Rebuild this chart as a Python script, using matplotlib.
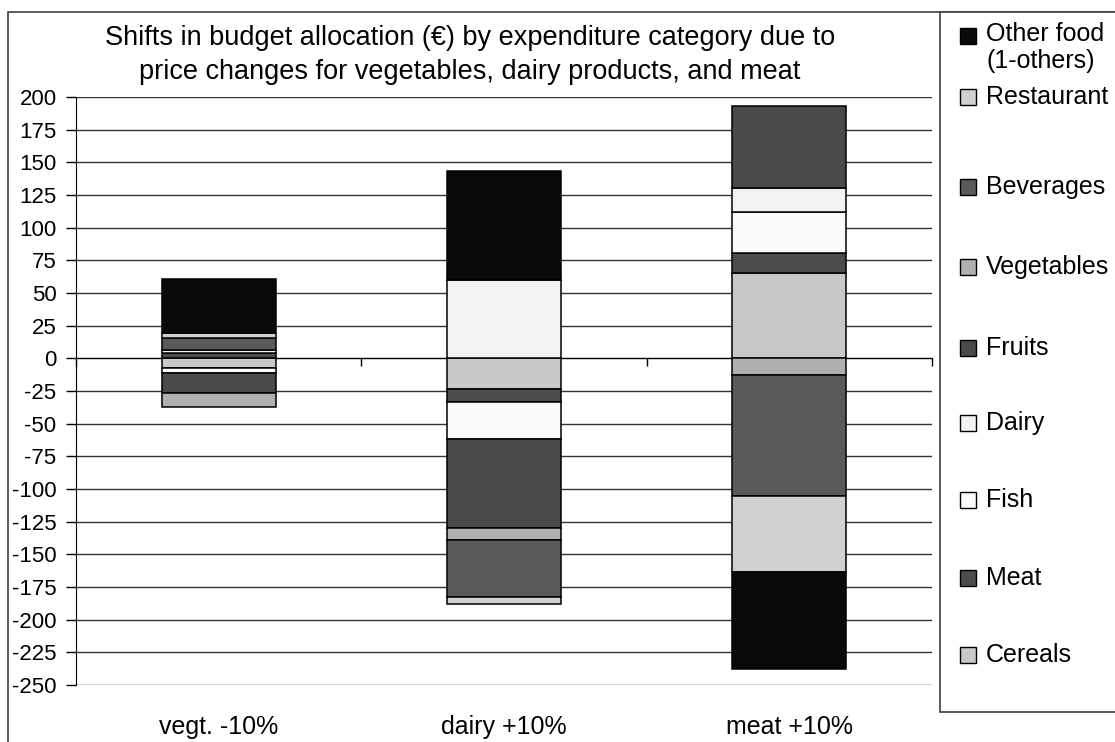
import numpy as np
import matplotlib
matplotlib.use('Agg')
import matplotlib.pyplot as plt
from matplotlib.patches import Rectangle

plt.rcParams['font.family'] = ['Liberation Sans', 'DejaVu Sans']
plt.rcParams['axes.unicode_minus'] = False

# data
categories = ['vegt. -10%', 'dairy +10%', 'meat +10%']
series = ['Cereals', 'Meat', 'Fish', 'Dairy', 'Fruits', 'Vegetables',
          'Beverages', 'Restaurant', 'Other food\n(1-others)']
cereals = [-7.4, -23.7, 65.5]
meat = [3.8, -9.5, 14.9]
fish = [-4.1, -28.6, 31.3]
dairy = [2.5, 60.0, 18.9]
fruits = [-14.7, -67.8, 62.7]
vegetables = [-10.8, -9.4, -12.8]
beverages = [9.0, -43.4, -92.6]
restaurant = [3.8, -5.6, -57.9]
other_food = [41.4, 83.4, -74.7]
values = [cereals, meat, fish, dairy, fruits, vegetables, beverages, restaurant, other_food]
colors = ['#c8c8c8', '#4d4d4d', '#fafafa', '#f2f2f2', '#4a4a4a', '#b0b0b0',
          '#5a5a5a', '#d0d0d0', '#0a0a0a']

W, H = 1115, 742
fig = plt.figure(figsize=(W / 100, H / 100), dpi=100)


def fx(x):
    return x / W


def fy(y):
    return 1 - y / H


ax = fig.add_axes([fx(76), fy(685), fx(932 - 76), 588 / H])

x = np.arange(len(categories))
pos_bottom = np.zeros(len(categories))
neg_bottom = np.zeros(len(categories))
for vals, col in zip(values, colors):
    v = np.array(vals)
    bottom = np.where(v >= 0, pos_bottom, neg_bottom)
    ax.bar(x, v, width=0.40, bottom=bottom, color=col, edgecolor='black',
           linewidth=1.1, zorder=3)
    pos_bottom = pos_bottom + np.where(v >= 0, v, 0)
    neg_bottom = neg_bottom + np.where(v < 0, v, 0)

ax.set_xlim(-0.5, 2.5)
ax.set_ylim(-250, 200)
ax.set_yticks(np.arange(-250, 201, 25))
ax.tick_params(axis='y', direction='out', length=7, width=1, pad=7, labelsize=16)
ax.yaxis.grid(True, color='#333333', linewidth=1)
ax.set_axisbelow(True)

ax.spines['top'].set_visible(False)
ax.spines['right'].set_visible(False)
ax.spines['left'].set_color('black')
ax.spines['bottom'].set_position(('data', 0))
ax.spines['bottom'].set_color('black')
ax.set_xticks([-0.5, 0.5, 1.5, 2.5])
ax.set_xticklabels([])
ax.tick_params(axis='x', direction='out', length=6, width=1)

for i, cat in enumerate(categories):
    ax.text(i, -0.072, cat, transform=ax.get_xaxis_transform(),
            ha='center', va='center', fontsize=18)

fig.text(fx(470), fy(55), 'Shifts in budget allocation (€) by expenditure category due to\n'
         'price changes for vegetables, dairy products, and meat',
         ha='center', va='center', fontsize=19.5, linespacing=1.4)

# outer chart frame and legend box
fig.add_artist(Rectangle((fx(8), fy(800)), fx(1200), (800 - 12) / H,
                         transform=fig.transFigure, fill=False,
                         edgecolor='#404040', linewidth=1.2, clip_on=False))
fig.add_artist(Rectangle((fx(940), fy(712)), fx(300), (712 - 12) / H,
                         transform=fig.transFigure, facecolor='white',
                         edgecolor='#404040', linewidth=1.2, clip_on=False))

# legend, top to bottom in reverse stacking order
legend_y = [655, 578, 500, 423, 348, 267, 187, 97, 36]
for name, col, ly in zip(series, colors, legend_y):
    fig.add_artist(Rectangle((fx(960), fy(ly + 8)), fx(16), 16 / H,
                             transform=fig.transFigure, facecolor=col,
                             edgecolor='black', linewidth=1))
    if '\n' in name:
        # two-line entry: first line centred on the square
        fig.text(fx(986), fy(ly - 14), name, ha='left', va='top',
                 fontsize=18, linespacing=1.15)
    else:
        fig.text(fx(986), fy(ly), name, ha='left', va='center', fontsize=18)

fig.savefig('out.png', dpi=100)
